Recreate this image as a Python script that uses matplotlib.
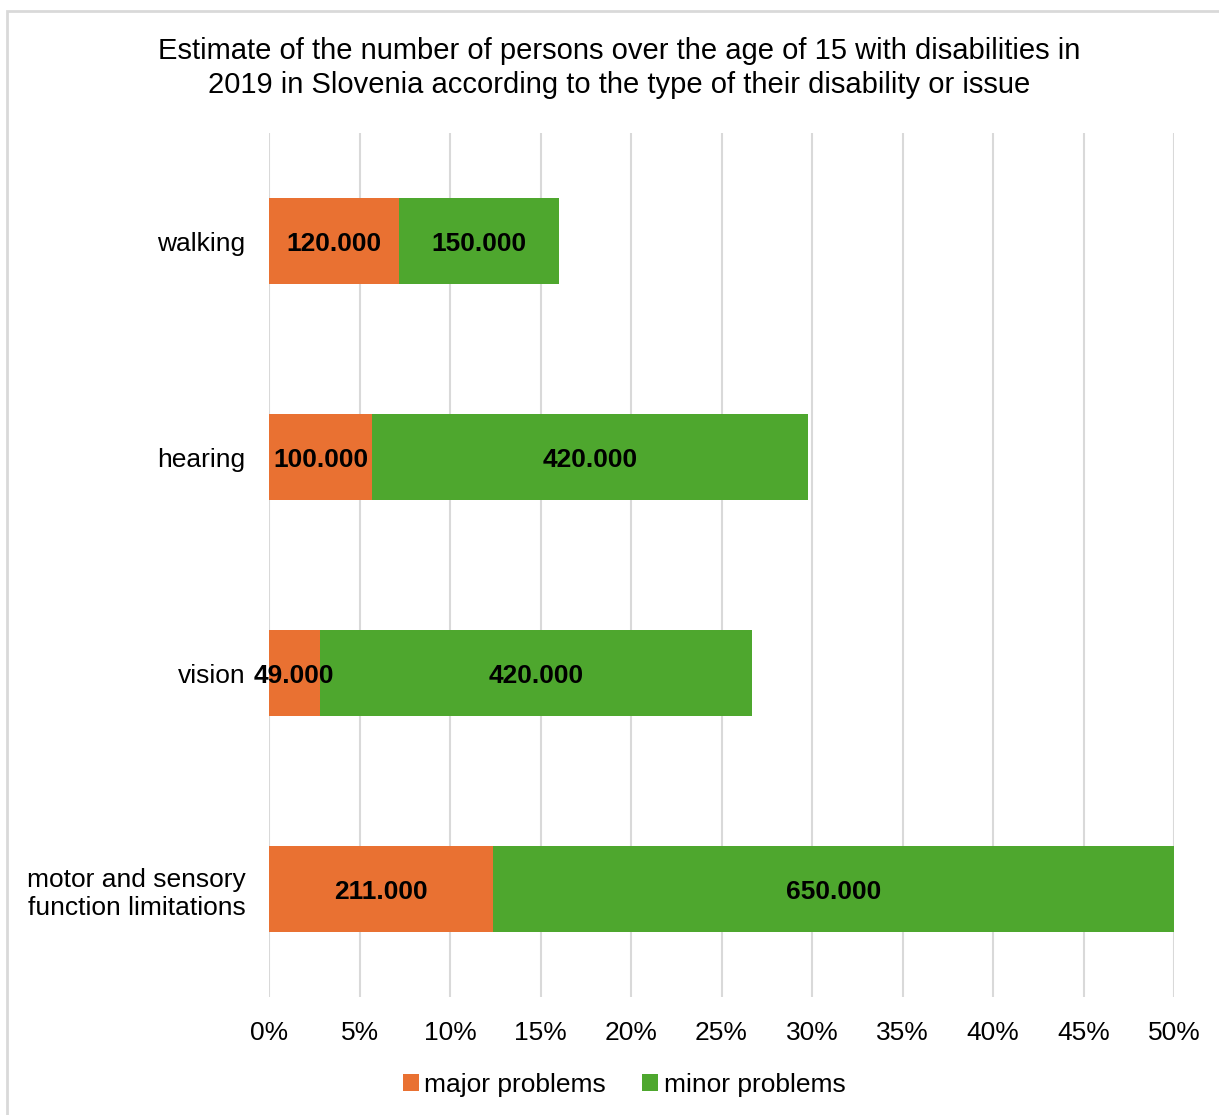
import matplotlib
matplotlib.use('Agg')
from matplotlib import pyplot as plt
from matplotlib.patches import Rectangle
import numpy as np

plt.rcParams['font.family'] = ['Liberation Sans', 'DejaVu Sans']

categories = ['walking', 'hearing', 'vision', 'motor and sensory\nfunction limitations']
major_pct = [7.2, 5.7, 2.8, 12.4]
minor_pct = [8.8, 24.1, 23.9, 37.6]
major_lbl = ['120.000', '100.000', '49.000', '211.000']
minor_lbl = ['150.000', '420.000', '420.000', '650.000']
ticks = [0, 5, 10, 15, 20, 25, 30, 35, 40, 45, 50]

orange = '#E97132'
green = '#4EA72E'

fig = plt.figure(figsize=(12.19, 11.15), dpi=100)
ax = fig.add_axes([0.2207, 0.1058, 0.7424, 0.7749])

y = np.arange(len(categories))
h = 0.4
b1 = ax.barh(y, major_pct, height=h, color=orange, label='major problems', zorder=3)
b2 = ax.barh(y, minor_pct, left=major_pct, height=h, color=green, label='minor problems', zorder=3)

for i in range(len(categories)):
    ax.text(major_pct[i] / 2, y[i], major_lbl[i], ha='center', va='center_baseline',
            fontsize=19, fontweight='bold', color='black', zorder=4)
    ax.text(major_pct[i] + minor_pct[i] / 2, y[i], minor_lbl[i], ha='center', va='center_baseline',
            fontsize=19, fontweight='bold', color='black', zorder=4)

ax.set_ylim(len(categories) - 0.5, -0.5)
ax.set_xlim(0, 50)
ax.set_yticks(y)
ax.set_yticklabels(categories, fontsize=19, linespacing=1.25)
ax.set_xticks(ticks)
ax.set_xticklabels(['%d%%' % t for t in ticks], fontsize=19)
ax.tick_params(axis='both', length=0)
ax.tick_params(axis='y', pad=17)
ax.tick_params(axis='x', pad=17)
for s in ax.spines.values():
    s.set_visible(False)
ax.grid(axis='x', color='#d9d9d9', linewidth=1.5, zorder=0)

fig.text(0.508, 0.939, 'Estimate of the number of persons over the age of 15 with disabilities in\n'
         '2019 in Slovenia according to the type of their disability or issue',
         ha='center', va='center', fontsize=21, linespacing=1.25)

fig.legend(handles=[b1, b2], loc='center', bbox_to_anchor=(624 / 1219, 1 - 1085 / 1115),
           ncol=2, frameon=False, fontsize=19, handlelength=0.6, handleheight=0.6,
           handletextpad=0.2, columnspacing=1.4)

fig.patches.append(Rectangle((7 / 1219, -0.01), 1.0, 1 - 11 / 1115 + 0.01, transform=fig.transFigure,
                             fill=False, edgecolor='#d9d9d9', linewidth=2))

fig.savefig('out.png', dpi=100)
